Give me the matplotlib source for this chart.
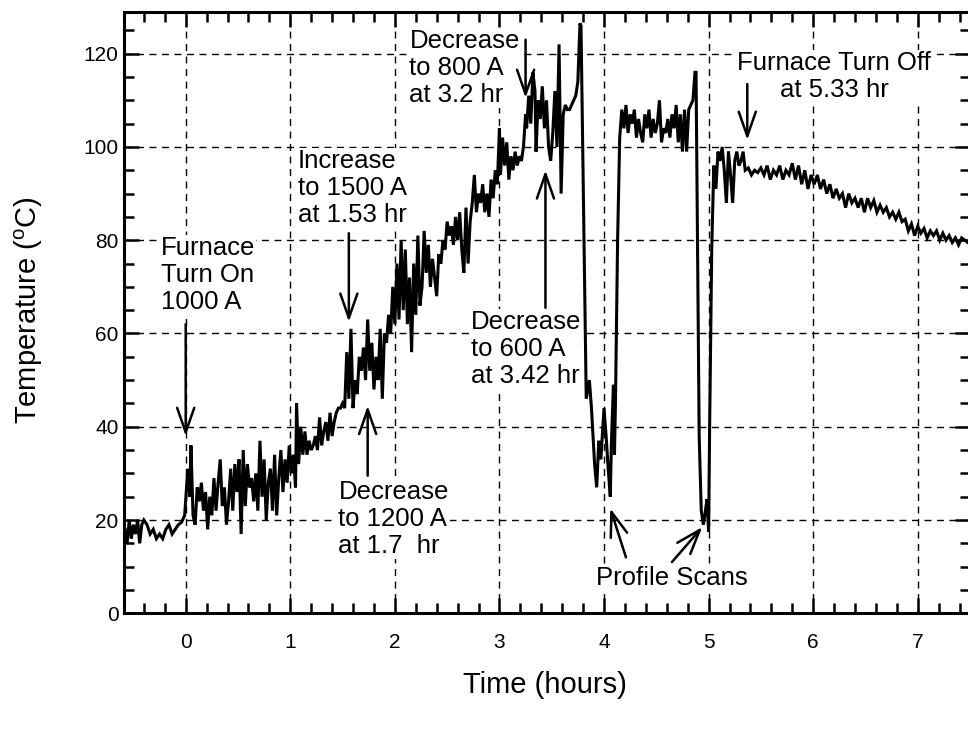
import matplotlib
matplotlib.use("Agg")
import matplotlib.pyplot as plt
from matplotlib.ticker import MultipleLocator

plt.rcParams['font.family'] = ['Liberation Sans', 'DejaVu Sans']
plt.rcParams['mathtext.fontset'] = 'custom'
plt.rcParams['mathtext.rm'] = 'Liberation Sans'

# --- data (time in hours, temperature in C) ---
time_hr = [
    -0.58, -0.56, -0.54, -0.52, -0.50, -0.48, -0.46, -0.44, -0.42, -0.40,
    -0.37, -0.34, -0.31, -0.28, -0.25, -0.22, -0.19, -0.16, -0.13, -0.10,
    -0.07, -0.04, -0.01,
    0.02, 0.04, 0.05, 0.07, 0.09, 0.11, 0.13, 0.15, 0.17, 0.19,
    0.21, 0.23, 0.25, 0.27, 0.29, 0.31, 0.33, 0.35, 0.37, 0.39,
    0.41, 0.43, 0.45, 0.47, 0.49, 0.51, 0.53, 0.55, 0.57, 0.59,
    0.61, 0.63, 0.65, 0.67, 0.69, 0.71, 0.73, 0.75, 0.77, 0.79,
    0.81, 0.83, 0.85, 0.87, 0.89, 0.91, 0.93, 0.95, 0.97, 0.99,
    1.01, 1.03, 1.05, 1.06, 1.08, 1.10, 1.12, 1.14, 1.16, 1.18,
    1.20, 1.22, 1.24, 1.26, 1.28, 1.30, 1.32, 1.34, 1.36, 1.38,
    1.40, 1.42, 1.44, 1.46, 1.48, 1.50,
    1.52, 1.54, 1.56, 1.58, 1.60, 1.62, 1.64, 1.66, 1.68, 1.70,
    1.72, 1.74, 1.76, 1.78, 1.80, 1.82, 1.84, 1.86, 1.88, 1.90,
    1.92, 1.94, 1.96, 1.98, 2.00, 2.02, 2.04, 2.06, 2.08, 2.10,
    2.12, 2.14, 2.16, 2.18, 2.20, 2.22, 2.24,
    2.26, 2.28, 2.30, 2.32, 2.34, 2.36, 2.38, 2.40, 2.42, 2.44,
    2.46, 2.48, 2.50, 2.52, 2.54, 2.56, 2.58, 2.60, 2.62, 2.64,
    2.66, 2.68, 2.70, 2.72, 2.74, 2.76, 2.78, 2.80, 2.82, 2.84,
    2.86, 2.88, 2.90, 2.92, 2.94, 2.96, 2.98, 3.00, 3.01, 3.03,
    3.05, 3.07, 3.09, 3.11, 3.13, 3.15, 3.17, 3.19, 3.21, 3.23,
    3.25, 3.26, 3.28, 3.30, 3.32, 3.34, 3.35, 3.37, 3.39, 3.41,
    3.43, 3.45, 3.47, 3.49, 3.51, 3.53, 3.55, 3.57, 3.59, 3.61,
    3.63, 3.65, 3.67, 3.69, 3.71, 3.73, 3.75, 3.77,
    3.78, 3.83, 3.86, 3.88, 3.91, 3.93, 3.95, 3.97, 4.00, 4.02,
    4.04, 4.06, 4.07, 4.09, 4.10, 4.11, 4.13, 4.15,
    4.17, 4.19, 4.21, 4.23, 4.25, 4.27, 4.29, 4.31, 4.33, 4.35,
    4.37, 4.39, 4.41, 4.43, 4.45, 4.47, 4.49, 4.51, 4.53, 4.55,
    4.57, 4.59, 4.61, 4.63, 4.65, 4.67, 4.69, 4.71, 4.73, 4.75,
    4.77, 4.79, 4.81, 4.83, 4.85, 4.87,
    4.88, 4.91, 4.93, 4.95, 4.97, 4.985, 5.00, 5.01, 5.03, 5.05,
    5.07, 5.09, 5.11, 5.13, 5.15, 5.17, 5.19, 5.21, 5.23, 5.25,
    5.27, 5.29, 5.31, 5.33, 5.35, 5.38, 5.41, 5.44, 5.47, 5.50,
    5.53, 5.56, 5.59, 5.62, 5.65, 5.68, 5.71, 5.74, 5.77, 5.80,
    5.83, 5.86, 5.89, 5.92, 5.95, 5.98, 6.01, 6.04, 6.07, 6.10,
    6.13, 6.16, 6.19, 6.22, 6.25, 6.28, 6.31, 6.34, 6.37, 6.40,
    6.43, 6.46, 6.49, 6.52, 6.55, 6.58, 6.61, 6.64, 6.67, 6.70,
    6.73, 6.76, 6.79, 6.82, 6.85, 6.88, 6.91, 6.94, 6.97, 7.00,
    7.03, 7.06, 7.09, 7.12, 7.15, 7.18, 7.21, 7.24, 7.27, 7.30,
    7.33, 7.36, 7.39, 7.42, 7.45, 7.48,
]
temp_c = [
    18, 15, 20, 16, 19, 17, 20, 15, 19, 20,
    19, 17, 18, 16, 17, 16, 18, 19, 17, 18,
    19, 19.5, 21,
    31, 25, 36, 21, 19, 27, 24, 28, 22, 26,
    18, 25, 21, 29, 22, 28, 33, 23, 27, 19,
    24, 31, 22, 32, 26, 33, 17, 35, 23, 32,
    27, 29, 24, 30, 22, 37, 25, 33, 20, 28,
    31, 22, 34, 21, 29, 35, 26, 33, 28, 36,
    30, 34, 27, 45, 32, 40, 34, 39, 34, 37,
    35, 36, 38, 35, 42, 36, 39, 41, 37, 43,
    38, 41, 43, 44, 44, 45,
    44, 56, 46, 61, 44, 50, 47, 55, 52, 57,
    50, 63, 52, 58, 48, 55, 50, 61, 46, 60,
    58, 64, 60, 70, 62, 75, 63, 80, 65, 78,
    62, 72, 56, 75, 64, 81, 66,
    70, 82, 73, 79, 70, 76, 72, 68, 77, 75,
    80, 78, 84, 81, 83, 79, 85, 80, 86, 78,
    73, 87, 75, 84, 88, 94, 86, 90, 88, 92,
    86, 90, 85, 93, 89, 95, 92, 104, 94, 102,
    96, 101, 93, 98, 95, 99, 96, 98, 97, 100,
    107, 104, 111, 105, 116, 112, 99, 110, 106, 113,
    104, 110, 100, 97, 103, 112, 100, 122, 90, 107,
    109, 108, 108, 109, 110, 111, 114, 126.5,
    126, 46, 50, 44, 32, 27, 37, 33, 44, 38,
    31, 25, 36, 49, 34, 46, 80, 102,
    108, 104, 109, 103, 107, 105, 108, 102, 106, 103,
    101, 107, 104, 108, 102, 106, 103, 105, 110, 101,
    104, 103, 106, 102, 107, 104, 109, 101, 107, 99,
    108, 99, 108, 109, 110, 116,
    116, 38, 22, 19, 22, 24.5, 17.5, 40, 78, 96,
    91, 99, 97, 100, 95, 88, 99, 94, 88, 97,
    99, 96, 97, 99, 95, 95.5, 94, 95, 94.5, 95.5,
    94, 96, 93, 95, 94, 96, 93, 95, 94, 96.5,
    93, 96, 92, 95, 91, 94, 92, 94, 91, 93,
    90, 92, 89, 91, 89, 90, 87, 90, 88, 89,
    87, 89, 86, 89, 87, 88.5, 86, 87.5, 86, 87,
    85, 86, 84.5, 86, 84, 84.5, 82, 83.5, 81, 83,
    81.5, 82.5, 80.5, 82, 81, 82, 80, 81.5, 80, 81,
    79.5, 80.5, 79, 80.5, 80, 79.5,
]

# annotations: text, text position (hr, C), alignment
notes = [
    ("Furnace\nTurn On\n1000 A", -0.24, 80.8, 'left'),
    ("Increase\nto 1500 A\nat 1.53 hr", 1.07, 99.6, 'left'),
    ("Decrease\nto 1200 A\nat 1.7  hr", 1.46, 28.6, 'left'),
    ("Decrease\nto 800 A\nat 3.2 hr", 2.14, 125.2, 'left'),
    ("Decrease\nto 600 A\nat 3.42 hr", 2.73, 65.0, 'left'),
    ("Furnace Turn Off\nat 5.33 hr", 6.2, 120.5, 'center'),
]
# arrows: (tail x, tail y) -> (head x, head y)
arrows = [
    ((0.0, 62), (0.0, 38)),
    ((1.56, 81.5), (1.56, 62.5)),
    ((1.74, 29.5), (1.74, 44.5)),
    ((3.25, 123), (3.25, 110.5)),
    ((3.44, 65.5), (3.44, 95)),
    ((5.37, 113.5), (5.37, 101.5)),
    ((4.21, 12), (4.06, 22.5)),
    ((4.65, 11), (4.94, 18.5)),
]

fig = plt.figure(figsize=(9.68, 7.31), dpi=100)
ax = fig.add_axes([0.1281, 0.161, 0.874, 0.823])

ax.plot(time_hr, temp_c, color='black', lw=2.2, solid_joinstyle='miter')

ax.set_xlim(-0.59, 7.5)
ax.set_ylim(0, 129)
ax.xaxis.set_major_locator(MultipleLocator(1))
ax.xaxis.set_minor_locator(MultipleLocator(0.2))
ax.yaxis.set_major_locator(MultipleLocator(20))
ax.yaxis.set_minor_locator(MultipleLocator(5))
ax.tick_params(which='both', direction='in', top=True, right=True,
               colors='black', width=1.8)
ax.tick_params(which='major', length=11)
ax.tick_params(which='minor', length=7)
ax.tick_params(axis='x', which='major', pad=14, labelsize=15)
ax.tick_params(axis='y', which='major', pad=4, labelsize=15)
for s in ax.spines.values():
    s.set_linewidth(2.2)
ax.grid(True, which='major', color='black', lw=1.0, linestyle=(0, (5, 4)))

box = dict(facecolor='white', edgecolor='none', pad=1)
for txt, tx, ty, ha in notes:
    ax.text(tx, ty, txt, ha=ha, va='top', fontsize=18.5,
            multialignment=ha, linespacing=1.15, bbox=box, zorder=3)

for (x0, y0), (x1, y1) in arrows:
    ax.annotate('', xy=(x1, y1), xytext=(x0, y0),
                arrowprops=dict(arrowstyle='->,head_length=0.8,head_width=0.28',
                                lw=1.8, color='black', mutation_scale=22,
                                shrinkA=0, shrinkB=0))

ax.text(3.92, 7.5, "Profile Scans", ha='left', va='center', fontsize=18.5,
        bbox=box, zorder=3)

fig.text(545 / 968, 1 - 685 / 731, "Time (hours)", ha='center', va='center',
         fontsize=21)
fig.text(29 / 968, 1 - 310 / 731, r"Temperature ($^{\mathrm{o}}$C)",
         ha='center', va='center', rotation=90, fontsize=21)

fig.savefig("out.png", dpi=100)
